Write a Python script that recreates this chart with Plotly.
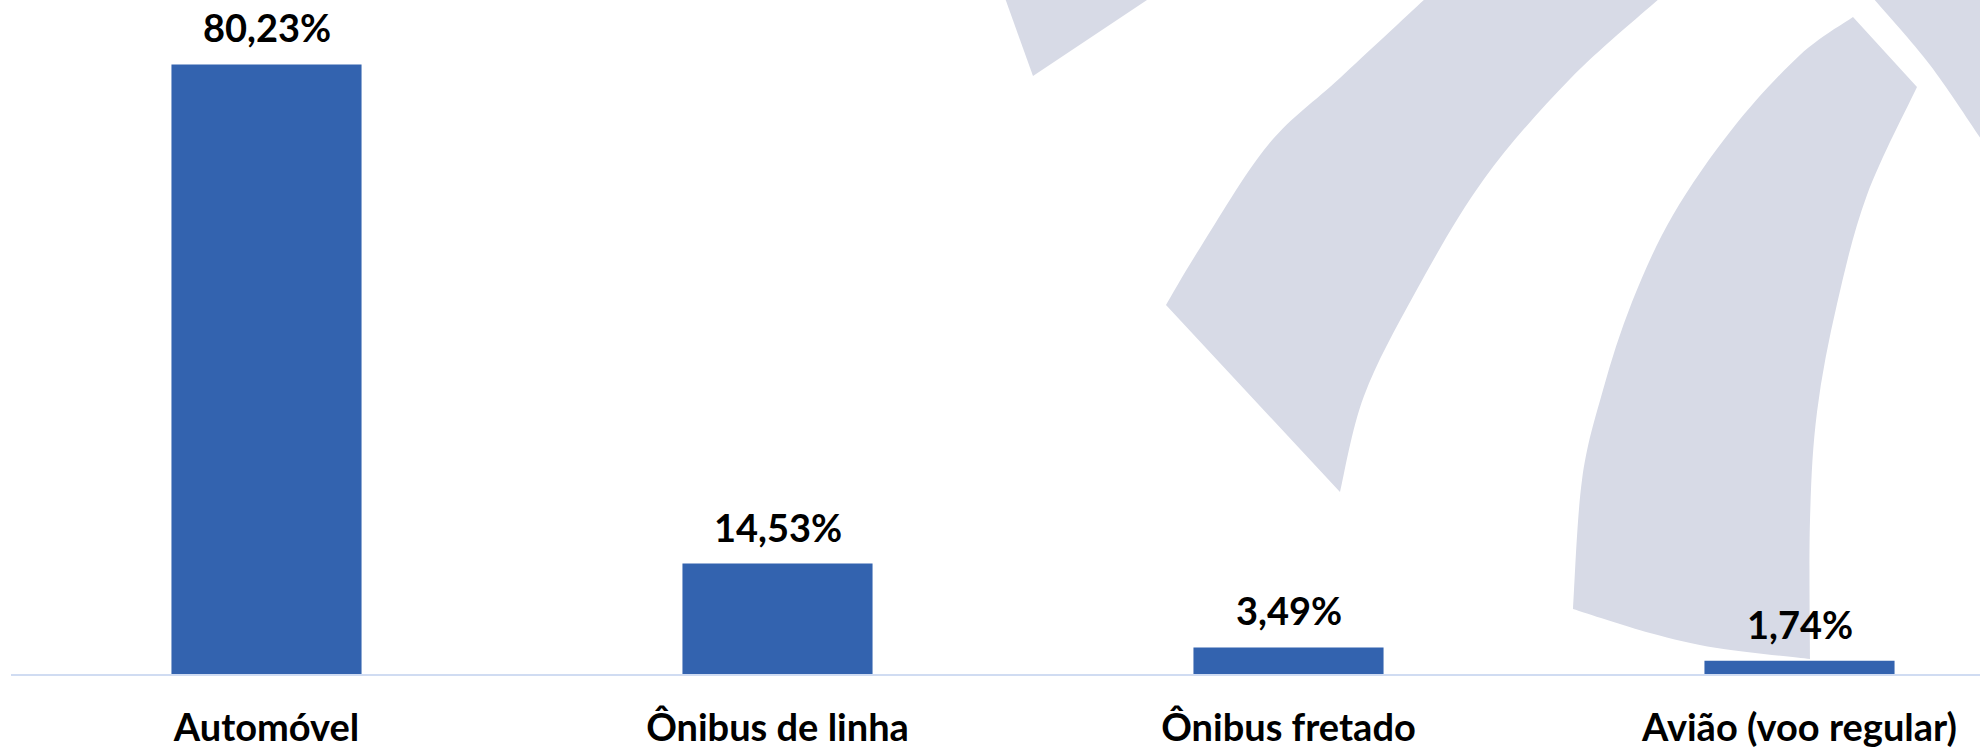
import plotly.graph_objects as go

categories = ["Automóvel", "Ônibus de linha", "Ônibus fretado", "Avião (voo regular)"]
values = [80.23, 14.53, 3.49, 1.74]
value_labels = [f"{v:.2f}".replace(".", ",") + "%" for v in values]

W, H = 1980, 750
ML, MB, MT = 11, 76, 0
PW, PH = W - ML, H - MB - MT

BAR_COLOR = "#3363AF"
WM_COLOR = "#D7DAE6"
FONT = "Lato"


def P(x, y):
    return ((x - ML) / PW, (H - MB - y) / PH)


def edges_to_path(edges):
    """edges: list of point lists (pixel coords); consecutive edges share endpoints.
    Each edge is smoothed with Catmull-Rom, corners stay sharp."""
    parts = []
    start = P(*edges[0][0])
    parts.append(f"M{start[0]:.5f},{start[1]:.5f}")
    for edge in edges:
        pts = [P(*p) for p in edge]
        if len(pts) == 2:
            parts.append(f"L{pts[1][0]:.5f},{pts[1][1]:.5f}")
            continue
        n = len(pts)
        for i in range(n - 1):
            p0 = pts[i - 1] if i > 0 else pts[i]
            p1 = pts[i]
            p2 = pts[i + 1]
            p3 = pts[i + 2] if i + 2 < n else pts[i + 1]
            c1 = (p1[0] + (p2[0] - p0[0]) / 6, p1[1] + (p2[1] - p0[1]) / 6)
            c2 = (p2[0] - (p3[0] - p1[0]) / 6, p2[1] - (p3[1] - p1[1]) / 6)
            parts.append(f"C{c1[0]:.5f},{c1[1]:.5f} {c2[0]:.5f},{c2[1]:.5f} {p2[0]:.5f},{p2[1]:.5f}")
    parts.append("Z")
    return " ".join(parts)


# decorative watermark bands (pixel outlines, as edges)
band_a = [[(1005, -2), (1033, 76)], [(1033, 76), (1150, -2)], [(1150, -2), (1005, -2)]]
band_b = [
    [(1426, -2), (1340, 78), (1268, 145), (1200, 248), (1166, 305)],
    [(1166, 305), (1340, 492)],
    [(1340, 492), (1364, 396), (1415, 293), (1484, 179), (1570, 79), (1660, -2)],
    [(1660, -2), (1426, -2)],
]
band_c = [
    [(1573, 609), (1582, 480), (1603, 390), (1632, 302), (1673, 215), (1733, 128), (1800, 55), (1853, 17)],
    [(1853, 17), (1917, 87)],
    [(1917, 87), (1867, 195), (1837, 304), (1817, 412), (1810, 520), (1810, 659)],
    [(1810, 659), (1717, 648), (1650, 633), (1573, 609)],
]
band_d = [
    [(1873, -2), (1930, 65), (1985, 145)],
    [(1985, 145), (1985, -2)],
    [(1985, -2), (1873, -2)],
]

shapes = []
for band in (band_a, band_b, band_c, band_d):
    shapes.append(dict(type="path", path=edges_to_path(band), xref="paper", yref="paper",
                       fillcolor=WM_COLOR, line=dict(width=0), layer="below"))

fig = go.Figure()
fig.add_trace(go.Bar(
    x=list(range(len(categories))), y=values, width=0.372,
    marker=dict(color=BAR_COLOR, line=dict(width=0)),
    hoverinfo="skip",
))

for i, (v, t) in enumerate(zip(values, value_labels)):
    fig.add_annotation(x=i, y=v, text=f"<b>{t}</b>", showarrow=False,
                       yanchor="bottom", yshift=12,
                       font=dict(family=FONT, size=38, color="#000000"))

fig.update_layout(
    width=W, height=H,
    margin=dict(l=ML, r=0, t=MT, b=MB, pad=0, autoexpand=False),
    paper_bgcolor="white", plot_bgcolor="rgba(0,0,0,0)",
    showlegend=False,
    shapes=shapes,
    font=dict(family=FONT, size=38, color="#000000"),
)
fig.update_xaxes(
    range=[-0.5, -0.5 + PW / 511.0],
    tickmode="array", tickvals=list(range(len(categories))),
    ticktext=[f"<b>{c}</b>" for c in categories],
    tickfont=dict(family=FONT, size=38, color="#000000"),
    showline=True, linecolor="#D0DCF2", linewidth=2,
    showgrid=False, zeroline=False, ticks="",
    ticklabelstandoff=19, automargin=False,
)
fig.update_yaxes(range=[0, PH / 7.597], visible=False, showgrid=False, zeroline=False, automargin=False)

fig.write_html("out.html", config={"displayModeBar": False},
               post_script="document.body.style.margin='0px';document.body.style.overflow='hidden';")
